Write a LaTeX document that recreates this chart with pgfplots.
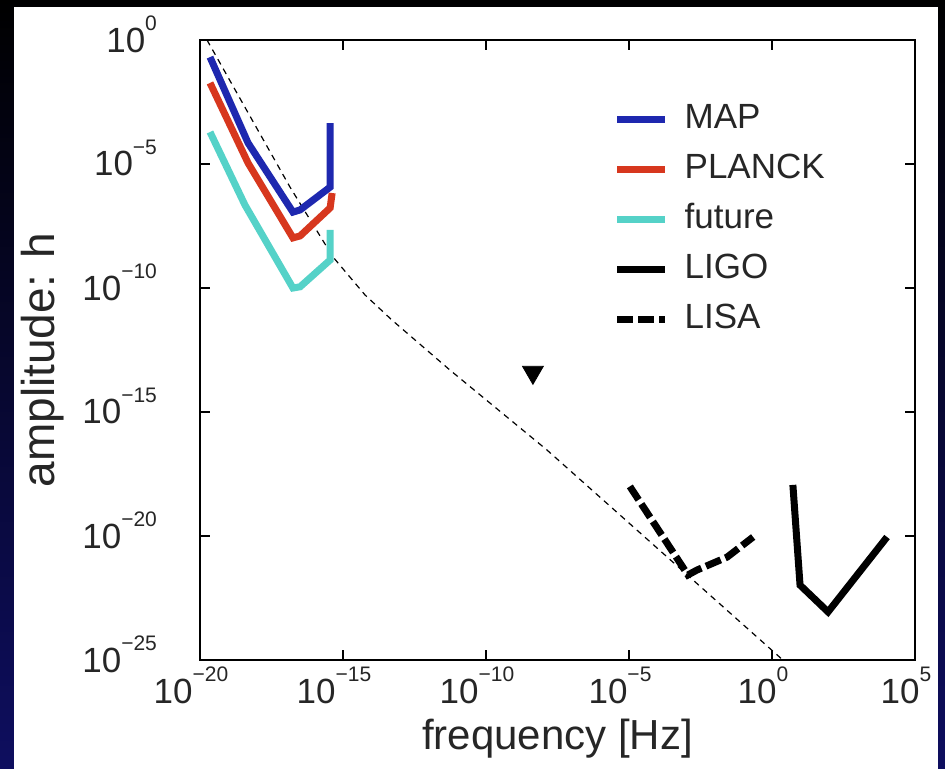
\documentclass[border=0pt]{standalone}
\usepackage{fontspec}
\setmainfont{Liberation Sans}
\usepackage{pgfplots}
\pgfplotsset{compat=1.18}
\definecolor{bgblue}{RGB}{14,14,95}
\definecolor{mapblue}{RGB}{30,40,175}
\definecolor{planckred}{RGB}{215,55,30}
\definecolor{futurecyan}{RGB}{85,210,200}
\newcommand\E[1]{10\raisebox{0.62em}{\fontsize{10.5}{10.5}\selectfont #1}}
\begin{document}
\begin{tikzpicture}
% background: dark frame and white panel (1px = 0.5pt)
\shade[top color=black, bottom color=bgblue] (-100pt,-54pt) rectangle (372.5pt,330pt);
\fill[white] (-93pt,-60pt) rectangle (369pt,326.5pt);
\begin{axis}[
    scale only axis,
    width=357.5pt, height=310pt,
    xmode=log, ymode=log,
    xmin=1e-20, xmax=1e5,
    ymin=1e-25, ymax=1,
    xtick={1e-20,1e-15,1e-10,1e-5,1,1e5},
    xticklabels={\E{−20},\E{−15},\E{−10},\E{−5},\E{0},\E{5}},
    ytick={1e-25,1e-20,1e-15,1e-10,1e-5,1},
    yticklabels={\E{−25},\E{−20},\E{−15},\E{−10},\E{−5},\E{0}},
    xminorticks=false, yminorticks=false,
    tick align=inside, major tick length=5pt,
    axis line style={line width=0.75pt},
    every tick/.style={black, line width=0.75pt},
    ticklabel style={font=\fontsize{17.5}{17.5}\selectfont, text=black!85},
    xticklabel style={xshift=-4.5pt},
    yticklabel style={xshift=-18pt, yshift=3pt},
    xlabel={frequency [Hz]},
    ylabel={amplitude: h},
    every axis x label/.style={at={(axis description cs:0.5,-0.145)}, anchor=base,
        font=\fontsize{21}{21}\selectfont, text=black!85},
    every axis y label/.style={at={(axis description cs:-0.22,0.484)}, rotate=90, anchor=center,
        font=\fontsize{23}{23}\selectfont, text=black!85},
    legend image code/.code={\draw[#1] (0pt,0pt) -- (24pt,0pt);},
    legend style={at={(axis description cs:0.578,0.9)}, anchor=north west,
        draw=none, fill=none, inner sep=0pt,
        font=\fontsize{17.5}{17.5}\selectfont, text=black!85,
        nodes={inner sep=0pt, text height=13pt, text depth=4pt},
        row sep=8pt,
        /tikz/every odd column/.append style={column sep=8pt}},
    legend cell align=left,
]
% theory line (thin dashed)
\addplot[black, line width=0.6pt, dash pattern=on 3pt off 2.5pt, forget plot] coordinates {
    (1.76e-20,1) (1.40e-17,1.18e-6) (4.47e-16,1.78e-9) (5.89e-15,5.25e-11)
    (5.13e-14,5.13e-12) (5.50e-12,4.90e-14) (1.35e-8,2.95e-17) (2.40,1e-25)};
\addplot[mapblue, line width=3.5pt] coordinates {
    (2.24e-20,0.204) (4.79e-19,7.08e-5) (1.78e-17,1.15e-7) (3.16e-17,1.41e-7)
    (3.55e-16,1.17e-6) (3.55e-16,3.02e-6) (3.55e-16,4.47e-4)};
\addlegendentry{MAP}
\addplot[planckred, line width=3.5pt] coordinates {
    (2.24e-20,1.86e-2) (4.79e-19,1.10e-5) (1.78e-17,1.05e-8) (3.16e-17,1.26e-8)
    (3.55e-16,1.70e-7) (4.17e-16,6.76e-7)};
\addlegendentry{PLANCK}
\addplot[futurecyan, line width=3.5pt] coordinates {
    (2.24e-20,1.95e-4) (3.72e-19,2.24e-7) (1.78e-17,1e-10) (3.16e-17,1.12e-10)
    (3.55e-16,1.35e-9) (3.55e-16,2.19e-8)};
\addlegendentry{future}
\addplot[black, line width=3.5pt] coordinates {
    (5.37,1.15e-18) (9.55,1.05e-22) (91.2,8.71e-24) (1.05e4,9.12e-21)};
\addlegendentry{LIGO}
\addplot[black, line width=3.5pt, dash pattern=on 8pt off 2.5pt] coordinates {
    (1.07e-5,1e-18) (1.15e-3,2.69e-22) (2.40e-3,4.27e-22) (2.69e-2,1.41e-21) (0.219,9.12e-21)};
\addlegendentry{LISA}
\addplot[only marks, mark=triangle*, mark size=6pt, black,
    mark options={rotate=180}, forget plot] coordinates {(4.37e-9,3.98e-14)};
\end{axis}
\pgfresetboundingbox
\path (-100pt,-54pt) rectangle (372.5pt,330pt);
\end{tikzpicture}
\end{document}
